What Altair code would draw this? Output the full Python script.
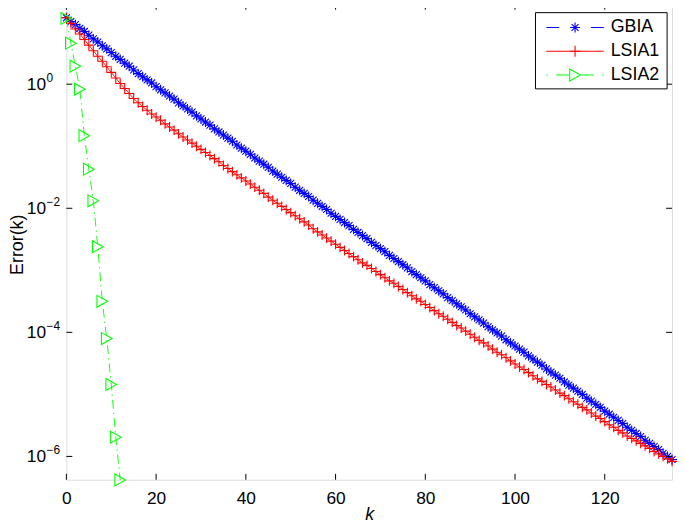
import altair as alt
import pandas as pd

# ---------------- data (log10 of Error(k)) ----------------
k_all = list(range(136))
gbia_log10 = [
    1.07, 1.01, 0.96, 0.90, 0.85, 0.79, 0.73, 0.68, 0.62, 0.57,
    0.51, 0.45, 0.40, 0.34, 0.29, 0.23, 0.17, 0.12, 0.07, 0.02,
    -0.04, -0.09, -0.14, -0.19, -0.24, -0.30, -0.35, -0.40, -0.45, -0.51,
    -0.56, -0.61, -0.66, -0.72, -0.77, -0.82, -0.87, -0.92, -0.98, -1.03,
    -1.08, -1.13, -1.19, -1.24, -1.29, -1.34, -1.40, -1.45, -1.50, -1.55,
    -1.60, -1.66, -1.71, -1.76, -1.81, -1.87, -1.92, -1.97, -2.02, -2.08,
    -2.13, -2.18, -2.23, -2.28, -2.34, -2.39, -2.44, -2.49, -2.55, -2.60,
    -2.65, -2.70, -2.76, -2.81, -2.86, -2.91, -2.96, -3.02, -3.07, -3.12,
    -3.17, -3.23, -3.28, -3.33, -3.38, -3.44, -3.49, -3.54, -3.59, -3.64,
    -3.70, -3.75, -3.80, -3.85, -3.91, -3.96, -4.01, -4.06, -4.12, -4.17,
    -4.22, -4.27, -4.32, -4.38, -4.43, -4.48, -4.53, -4.59, -4.64, -4.69,
    -4.74, -4.80, -4.85, -4.90, -4.95, -5.00, -5.06, -5.11, -5.16, -5.21,
    -5.27, -5.32, -5.37, -5.42, -5.47, -5.53, -5.58, -5.63, -5.68, -5.74,
    -5.79, -5.84, -5.89, -5.95, -6.00, -6.05,
]
lsia1_log10 = [
    1.07, 0.98, 0.89, 0.81, 0.72, 0.63, 0.54, 0.45, 0.37, 0.28,
    0.19, 0.10, 0.01, -0.07, -0.15, -0.23, -0.30, -0.36, -0.42, -0.48,
    -0.53, -0.58, -0.64, -0.69, -0.74, -0.80, -0.85, -0.90, -0.95, -1.00,
    -1.05, -1.10, -1.15, -1.20, -1.25, -1.31, -1.36, -1.41, -1.46, -1.51,
    -1.56, -1.61, -1.66, -1.71, -1.76, -1.82, -1.87, -1.92, -1.97, -2.02,
    -2.07, -2.12, -2.17, -2.22, -2.27, -2.33, -2.38, -2.43, -2.48, -2.53,
    -2.58, -2.63, -2.68, -2.73, -2.78, -2.83, -2.88, -2.92, -2.97, -3.02,
    -3.07, -3.12, -3.17, -3.21, -3.26, -3.31, -3.36, -3.41, -3.46, -3.50,
    -3.55, -3.60, -3.65, -3.70, -3.74, -3.79, -3.84, -3.89, -3.93, -3.98,
    -4.03, -4.08, -4.13, -4.17, -4.22, -4.27, -4.32, -4.36, -4.41, -4.46,
    -4.51, -4.56, -4.60, -4.65, -4.70, -4.75, -4.79, -4.84, -4.88, -4.93,
    -4.98, -5.02, -5.07, -5.12, -5.16, -5.21, -5.25, -5.30, -5.35, -5.39,
    -5.44, -5.49, -5.53, -5.58, -5.62, -5.67, -5.71, -5.75, -5.79, -5.83,
    -5.87, -5.92, -5.96, -6.00, -6.04, -6.08,
]
lsia2_k = list(range(13))
lsia2_log10 = [1.06, 0.66, 0.29, -0.08, -0.83, -1.37, -1.88, -2.62,
               -3.50, -4.10, -4.84, -5.69, -6.38]

x_ticks = [0, 20, 40, 60, 80, 100, 120]
y_ticks = [1.0, 1e-2, 1e-4, 1e-6]
y_tick_exps = ["0", "\u22122", "\u22124", "\u22126"]
legend_labels = ["GBIA", "LSIA1", "LSIA2"]
series_colors = ["#0000ff", "#ff0000", "#00ff00"]

# ---------------- tables ----------------
gb_df = pd.DataFrame({"k": k_all, "err": [10 ** v for v in gbia_log10]})
l1_df = pd.DataFrame({"k": k_all, "err": [10 ** v for v in lsia1_log10]})
l2_df = pd.DataFrame({"k": lsia2_k, "err": [10 ** v for v in lsia2_log10]})
xt_df = pd.DataFrame({"k": x_ticks})
yt_df = pd.DataFrame({"err": y_ticks, "exp": y_tick_exps})

W, H = 612, 481
FONT = "Liberation Sans"

ASTERISK = "M-1,0L1,0M0,-1L0,1M-0.7,-0.7L0.7,0.7M-0.7,0.7L0.7,-0.7"
PLUS = "M-1,0L1,0M0,-1L0,1"
TRI_RIGHT = "M-0.9,-1L0.9,0L-0.9,1Z"

xs = alt.Scale(domain=[0, 135], nice=False, zero=False)
ys = alt.Scale(type="log", domain=[4.2e-7, 19.8], nice=False)

X = alt.X("k:Q", scale=xs, axis=alt.Axis(
    values=x_ticks, title="k", grid=False, domain=False, ticks=False,
    labelPadding=10, labelFontSize=17.5, labelFont=FONT, labelColor="black",
    labelFlush=False, labelOverlap=False,
    titleFont=FONT, titleFontSize=18, titleFontWeight="normal",
    titleFontStyle="italic", titleColor="black", titleY=40,
    titleBaseline="alphabetic"))
Y = alt.Y("err:Q", scale=ys, axis=alt.Axis(
    values=y_ticks, labelExpr="'10'", title="Error(k)", grid=False,
    domain=False, ticks=False, labelPadding=21, labelFontSize=17.5,
    labelFont=FONT, labelColor="black", labelFlush=False, labelOverlap=False,
    labelBaseline="middle",
    titleFont=FONT, titleFontSize=18, titleFontWeight="normal",
    titleColor="black", titleX=-44, titleY=243, titleAngle=270,
    titleBaseline="alphabetic", titleAlign="center"))

layers = []
# GBIA
layers.append(alt.Chart(gb_df).mark_line(color=series_colors[0], strokeWidth=0.8,
                                         strokeDash=[6, 4]).encode(x=X, y=Y))
layers.append(alt.Chart(gb_df).mark_point(shape=ASTERISK, size=100, filled=False,
                                          color=series_colors[0], strokeWidth=1.1,
                                          opacity=1).encode(x=X, y=Y))
# LSIA1
layers.append(alt.Chart(l1_df).mark_line(color=series_colors[1], strokeWidth=0.9).encode(x=X, y=Y))
layers.append(alt.Chart(l1_df).mark_point(shape=PLUS, size=100, filled=False,
                                          color=series_colors[1], strokeWidth=1.1,
                                          opacity=1).encode(x=X, y=Y))
# LSIA2
layers.append(alt.Chart(l2_df).mark_line(color=series_colors[2], strokeWidth=0.9,
                                         strokeDash=[9, 4, 1.5, 4]).encode(x=X, y=Y))
layers.append(alt.Chart(l2_df).mark_point(shape=TRI_RIGHT, size=144, filled=False,
                                          color=series_colors[2], strokeWidth=1.1,
                                          opacity=1).encode(x=X, y=Y))

# inward ticks (MATLAB box style)
layers.append(alt.Chart(xt_df).mark_rule(color="black", strokeWidth=1).encode(
    x=X, y=alt.value(H), y2=alt.value(H - 6)))
layers.append(alt.Chart(xt_df).mark_rule(color="black", strokeWidth=1).encode(
    x=X, y=alt.value(0), y2=alt.value(6)))
layers.append(alt.Chart(yt_df).mark_rule(color="black", strokeWidth=1).encode(
    y=Y, x=alt.value(0), x2=alt.value(6)))
layers.append(alt.Chart(yt_df).mark_rule(color="black", strokeWidth=1).encode(
    y=Y, x=alt.value(W), x2=alt.value(W - 6)))
# exponents of the 10^n labels
layers.append(alt.Chart(yt_df).mark_text(align="left", baseline="alphabetic", dy=-2,
                                         fontSize=12, font=FONT, color="black").encode(
    y=Y, x=alt.value(-20), text="exp:N"))

# legend box
one = pd.DataFrame({"label": [""]})
layers.append(alt.Chart(one).mark_rect(fill="white", stroke="black", strokeWidth=1).encode(
    x=alt.value(474), x2=alt.value(607), y=alt.value(9), y2=alt.value(86)))

row_y = [24, 48, 72]
LX0, LX1, LMX, LTX = 485, 543, 514, 550
# GBIA entry: dash, asterisk, dash
d0 = pd.DataFrame({"label": [legend_labels[0]]})
layers.append(alt.Chart(d0).mark_rule(color=series_colors[0], strokeWidth=1).encode(
    x=alt.value(LX0), x2=alt.value(LX0 + 13), y=alt.value(row_y[0])))
layers.append(alt.Chart(d0).mark_rule(color=series_colors[0], strokeWidth=1).encode(
    x=alt.value(LX1 - 13), x2=alt.value(LX1), y=alt.value(row_y[0])))
layers.append(alt.Chart(d0).mark_point(shape=ASTERISK, size=100, filled=False,
                                       color=series_colors[0], strokeWidth=1.1, opacity=1).encode(
    x=alt.value(LMX), y=alt.value(row_y[0])))
# LSIA1 entry: solid line with plus
d1 = pd.DataFrame({"label": [legend_labels[1]]})
layers.append(alt.Chart(d1).mark_rule(color=series_colors[1], strokeWidth=1).encode(
    x=alt.value(LX0), x2=alt.value(LX1), y=alt.value(row_y[1])))
layers.append(alt.Chart(d1).mark_point(shape=PLUS, size=121, filled=False,
                                       color=series_colors[1], strokeWidth=1.1, opacity=1).encode(
    x=alt.value(LMX), y=alt.value(row_y[1])))
# LSIA2 entry: dot, dash, triangle, dash, dot
d2 = pd.DataFrame({"label": [legend_labels[2]]})
for a, b in [(LX0, LX0 + 1.5), (LX0 + 10, LX0 + 23), (LX1 - 23, LX1 - 10), (LX1 - 1.5, LX1)]:
    layers.append(alt.Chart(d2).mark_rule(color=series_colors[2], strokeWidth=1).encode(
        x=alt.value(a), x2=alt.value(b), y=alt.value(row_y[2])))
layers.append(alt.Chart(d2).mark_point(shape=TRI_RIGHT, size=144, filled=False,
                                       color=series_colors[2], strokeWidth=1.1, opacity=1).encode(
    x=alt.value(LMX), y=alt.value(row_y[2])))
# legend texts
for i, d in enumerate([d0, d1, d2]):
    layers.append(alt.Chart(d).mark_text(align="left", baseline="middle", fontSize=18,
                                         font=FONT, color="black").encode(
        x=alt.value(LTX), y=alt.value(row_y[i]), text="label:N"))

chart = alt.layer(*layers).properties(
    width=W, height=H,
    autosize=alt.AutoSizeParams(type="none"),
    padding={"left": 59, "top": -7, "right": 5, "bottom": 45},
).configure_view(stroke="black", strokeWidth=1, fill="white").configure(background="white")

chart.save("out.html", embed_options={"renderer": "svg", "actions": False})
